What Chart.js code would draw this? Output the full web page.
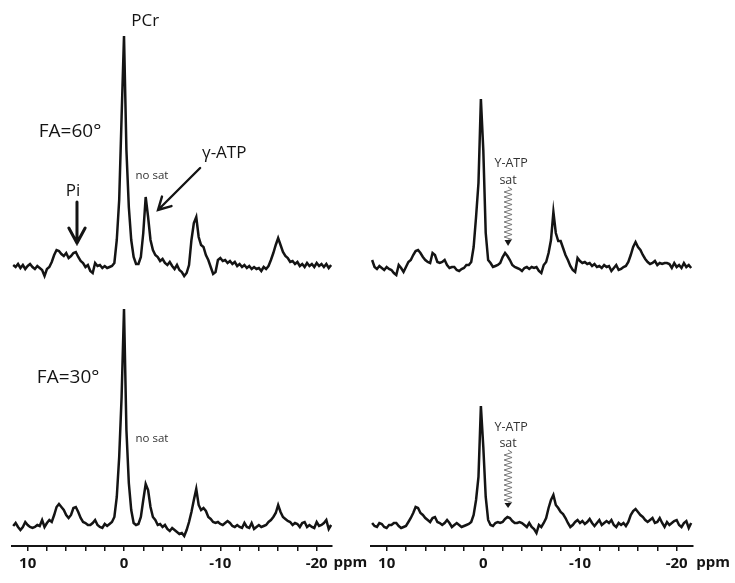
<!DOCTYPE html>
<html>
<head>
<meta charset="utf-8">
<script src="https://cdn.jsdelivr.net/npm/chart.js@4.4.1/dist/chart.umd.min.js"></script>
<style>
  body { margin: 0; background: #fff; }
  #wrap { position: relative; width: 735px; height: 583px; overflow: hidden; }
  canvas { position: absolute; }
</style>
</head>
<body>
<div id="wrap">
  <canvas id="fa60a" width="321" height="290" style="left:11px;top:0"></canvas>
  <canvas id="fa60b" width="323" height="290" style="left:370px;top:0"></canvas>
  <canvas id="fa30a" width="360" height="293" style="left:11px;top:290px"></canvas>
  <canvas id="fa30b" width="365" height="293" style="left:370px;top:290px"></canvas>
</div>
<script>
// chemical shift axis (ppm), shared by all four spectra
const ppm = [
  11.5, 11.25, 11, 10.75, 10.5, 10.25, 10, 9.75,
  9.5, 9.25, 9, 8.75, 8.5, 8.25, 8, 7.75,
  7.5, 7.25, 7, 6.75, 6.5, 6.25, 6, 5.75,
  5.5, 5.25, 5, 4.75, 4.5, 4.25, 4, 3.75,
  3.5, 3.25, 3, 2.75, 2.5, 2.25, 2, 1.75,
  1.5, 1.25, 1, 0.75, 0.5, 0.25, 0, -0.25,
  -0.5, -0.75, -1, -1.25, -1.5, -1.75, -2, -2.25,
  -2.5, -2.75, -3, -3.25, -3.5, -3.75, -4, -4.25,
  -4.5, -4.75, -5, -5.25, -5.5, -5.75, -6, -6.25,
  -6.5, -6.75, -7, -7.25, -7.5, -7.75, -8, -8.25,
  -8.5, -8.75, -9, -9.25, -9.5, -9.75, -10, -10.25,
  -10.5, -10.75, -11, -11.25, -11.5, -11.75, -12, -12.25,
  -12.5, -12.75, -13, -13.25, -13.5, -13.75, -14, -14.25,
  -14.5, -14.75, -15, -15.25, -15.5, -15.75, -16, -16.25,
  -16.5, -16.75, -17, -17.25, -17.5, -17.75, -18, -18.25,
  -18.5, -18.75, -19, -19.25, -19.5, -19.75, -20, -20.25,
  -20.5, -20.75, -21, -21.25, -21.5
];

// signal, a.u.
const fa60NoSat = [
  2, 0, 3, -1, 2, -2, 1, 3,
  0, -2, 1, -1, -3, -9, -2, 0,
  5, 12, 17, 16, 13, 11, 14, 9,
  11, 14, 15, 10, 6, 4, 0, 2,
  -4, -6, 4, 1, 2, -1, 1, -1,
  0, 1, 4, 27, 67, 150, 231, 117,
  60, 27, 10, 3, 3, 10, 34, 70,
  50, 27, 17, 12, 10, 6, 8, 4,
  2, 5, 1, -2, 2, -3, -5, -9,
  -6, 2, 27, 44, 50, 30, 22, 20,
  12, 7, 0, -7, -5, 7, 9, 6,
  7, 4, 6, 3, 5, 1, 3, 0,
  2, -1, 1, -2, 0, -2, -1, -4,
  0, -2, 1, 7, 14, 22, 29, 22,
  15, 11, 9, 5, 6, 3, 5, 1,
  3, 0, 4, 1, 3, 0, 4, 1,
  3, 0, 3, -1, 2
];
const fa60Sat = [
  7, 0, -2, 1, -1, -3, 0, -2,
  -3, -6, -8, 2, -1, -5, 0, 5,
  7, 12, 16, 17, 14, 10, 7, 5,
  4, 14, 12, 5, 4, 5, 7, 2,
  -1, 0, 0, -3, -4, -2, -1, 2,
  2, 5, 20, 50, 84, 168, 117, 34,
  7, 4, 0, 1, 2, 4, 10, 14,
  11, 7, 2, 0, -1, -2, -4, -1,
  0, -2, 0, -1, 0, -4, -6, 2,
  5, 14, 27, 55, 34, 26, 26, 19,
  12, 7, 1, -3, -5, 9, 6, 4,
  5, 3, 4, 1, 3, 0, 1, -1,
  2, 0, 1, -4, -1, 2, -3, -2,
  0, 1, 5, 12, 20, 25, 20, 17,
  12, 8, 5, 3, 4, 6, 2, 4,
  3, 4, 4, 3, -1, 4, 0, 2,
  -1, 4, 0, 2, -1
];
const fa30NoSat = [
  1, 4, 0, -3, 0, 5, 2, 0,
  -1, 0, 2, 1, 7, 0, 4, 7,
  5, 12, 20, 23, 20, 17, 12, 9,
  12, 19, 20, 15, 9, 5, 4, 2,
  2, 4, 7, 2, 0, -1, 3, 1,
  3, 5, 10, 30, 70, 130, 218, 97,
  44, 17, 4, 2, 3, 10, 27, 43,
  37, 20, 10, 7, 2, 3, 0, 2,
  -2, -4, -1, -3, -5, -7, -6, -9,
  -3, 5, 15, 27, 38, 22, 17, 19,
  16, 10, 8, 5, 4, 5, 3, 2,
  4, 6, 4, 1, 0, 2, 0, -1,
  4, 0, -1, 4, -2, 0, 2, 0,
  1, 2, 5, 7, 10, 14, 22, 15,
  10, 8, 6, 5, 2, 4, 3, 0,
  4, 5, 0, 2, 0, -1, 5, 1,
  2, 4, 7, -2, 2
];
const fa30Sat = [
  2, -1, -2, 2, 1, -2, -3, 0,
  0, 2, 2, -1, -3, -2, -1, 3,
  7, 12, 18, 17, 12, 10, 7, 5,
  3, 7, 8, 3, 2, 0, 2, 5,
  2, -2, 0, 2, 0, -2, -1, 0,
  1, 3, 10, 25, 48, 119, 78, 28,
  5, 0, -1, 2, 3, 2, 3, 6,
  8, 7, 4, 2, 2, 3, 2, 0,
  -2, 2, -2, -4, -8, 0, -2, 2,
  7, 17, 25, 30, 20, 17, 13, 11,
  7, 2, -2, 0, 3, 5, 2, 4,
  1, 3, 6, 2, -1, 2, 5, 0,
  2, 4, 2, 5, 0, -2, 2, 0,
  2, -1, 3, 10, 14, 16, 13, 10,
  8, 5, 3, 5, 7, 2, 3, 7,
  2, -2, 3, 0, 2, 4, 5, 0,
  -2, 2, 4, -3, 2
];

const tickLabels = ['10', '0', '-10', '-20'];

Chart.defaults.font.family = '"Open Sans", sans-serif';
const ink = '#141414';

function drawArrow(ctx, x0, y0, x1, y1, width, head, spread) {
  const a = Math.atan2(y1 - y0, x1 - x0);
  ctx.strokeStyle = ink;
  ctx.lineWidth = width;
  ctx.lineCap = 'round';
  ctx.beginPath();
  ctx.moveTo(x0, y0);
  ctx.lineTo(x1, y1);
  ctx.moveTo(x1 - head * Math.cos(a - spread), y1 - head * Math.sin(a - spread));
  ctx.lineTo(x1, y1);
  ctx.lineTo(x1 - head * Math.cos(a + spread), y1 - head * Math.sin(a + spread));
  ctx.stroke();
}

// wavy "saturation" arrow
function drawWave(ctx, x, yTop, yBot, yTip) {
  ctx.strokeStyle = '#777';
  ctx.lineWidth = 1;
  ctx.beginPath();
  ctx.moveTo(x, yTop);
  let side = 1;
  for (let y = yTop + 2.5; y < yBot; y += 2.5) {
    ctx.lineTo(x + side * 4, y);
    side = -side;
  }
  ctx.lineTo(x, yBot);
  ctx.stroke();
  ctx.fillStyle = ink;
  ctx.beginPath();
  ctx.moveTo(x - 3.5, yBot);
  ctx.lineTo(x + 3.5, yBot);
  ctx.lineTo(x, yTip);
  ctx.closePath();
  ctx.fill();
}

function notesPlugin(notes) {
  return {
    id: 'notes',
    afterDraw(chart) {
      const ctx = chart.ctx;
      const px = v => chart.scales.x.getPixelForValue(v);
      const py = v => chart.scales.y.getPixelForValue(v);
      ctx.save();
      ctx.textAlign = 'center';
      ctx.textBaseline = 'middle';
      (notes.labels || []).forEach(n => {
        ctx.font = (n.bold ? 'bold ' : '') + n.size + 'px "Open Sans", sans-serif';
        ctx.fillStyle = n.color || ink;
        ctx.fillText(n.text, px(n.ppm), py(n.y));
      });
      (notes.arrows || []).forEach(a => {
        drawArrow(ctx, px(a.from[0]), py(a.from[1]), px(a.to[0]), py(a.to[1]), a.width, a.head, a.spread);
      });
      (notes.waves || []).forEach(w => {
        drawWave(ctx, px(w.ppm), py(w.top), py(w.bottom), py(w.tip));
      });
      ctx.restore();
    }
  };
}

function spectrum(id, values, range, yRange, showAxis, padRight, notes) {
  const xScale = {
    type: 'linear',
    reverse: true,
    min: range[0],
    max: range[1],
    display: showAxis
  };
  if (showAxis) {
    Object.assign(xScale, {
      afterFit: s => { s.height = 37; },
      border: { display: true, color: ink, width: 2 },
      grid: { drawOnChartArea: false, drawTicks: true, tickLength: 5, color: ink, lineWidth: 1.5 },
      ticks: {
        stepSize: 2,
        includeBounds: false,
        autoSkip: false,
        maxRotation: 0,
        padding: 4,
        color: ink,
        font: { size: 15, weight: 'bold' },
        callback: v => (tickLabels.includes(String(v)) ? String(v) : '')
      }
    });
  }
  return new Chart(document.getElementById(id), {
    type: 'line',
    data: {
      datasets: [{
        data: ppm.map((p, i) => ({ x: p, y: values[i] })),
        borderColor: ink,
        borderWidth: 2.5,
        pointRadius: 0,
        tension: 0,
        fill: false
      }]
    },
    options: {
      responsive: false,
      animation: false,
      devicePixelRatio: 1,
      layout: { padding: { left: 0, right: padRight, top: 0, bottom: 0 } },
      plugins: { legend: { display: false }, tooltip: { enabled: false } },
      scales: {
        x: xScale,
        y: { display: false, min: yRange[0], max: yRange[1] }
      }
    },
    plugins: [notesPlugin(notes)]
  });
}

spectrum('fa60a', fa60NoSat, [-21.59, 11.73], [-23, 267], false, 0, {
  labels: [
    { text: 'PCr', ppm: -2.2, y: 246, size: 17 },
    { text: 'FA=60°', ppm: 5.6, y: 135, size: 19 },
    { text: 'no sat', ppm: -2.9, y: 91, size: 11.5, color: '#333' },
    { text: 'γ-ATP', ppm: -10.4, y: 114, size: 17 },
    { text: 'Pi', ppm: 5.3, y: 76, size: 17 }
  ],
  arrows: [
    { from: [4.88, 65], to: [4.88, 24], width: 3, head: 17, spread: 0.5 },
    { from: [-7.9, 99], to: [-3.53, 57], width: 2.4, head: 14, spread: 0.5 }
  ]
});

spectrum('fa60b', fa60Sat, [-21.69, 11.72], [-23, 267], false, 0, {
  labels: [
    { text: 'Y-ATP', ppm: -2.87, y: 104, size: 12.5, color: '#333' },
    { text: 'sat', ppm: -2.56, y: 87, size: 12.5, color: '#333' }
  ],
  waves: [{ ppm: -2.56, top: 80, bottom: 27, tip: 21 }]
});

spectrum('fa30a', fa30NoSat, [-21.59, 11.73], [-19, 237], true, 39, {
  labels: [
    { text: 'FA=30°', ppm: 5.8, y: 149, size: 19 },
    { text: 'no sat', ppm: -2.9, y: 88, size: 11.5, color: '#333' },
    { text: 'ppm', ppm: -23.5, y: -36, size: 15, bold: true }
  ]
});

spectrum('fa30b', fa30Sat, [-21.69, 11.72], [-21, 235], true, 42, {
  labels: [
    { text: 'Y-ATP', ppm: -2.87, y: 98, size: 12.5, color: '#333' },
    { text: 'sat', ppm: -2.56, y: 82, size: 12.5, color: '#333' },
    { text: 'ppm', ppm: -23.76, y: -38, size: 15, bold: true }
  ],
  waves: [{ ppm: -2.56, top: 75, bottom: 22, tip: 17 }]
});
</script>
</body>
</html>
